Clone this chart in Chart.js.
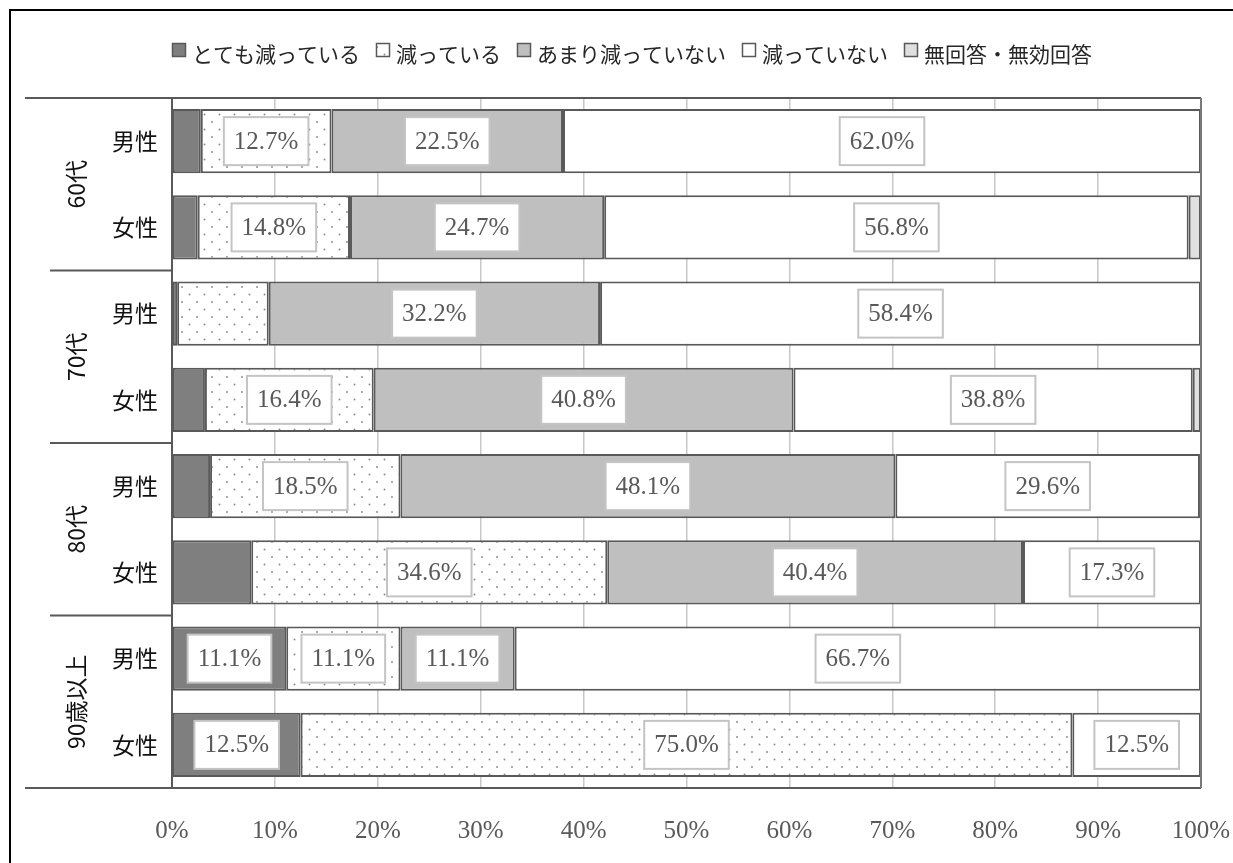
<!DOCTYPE html>
<html>
<head>
<meta charset="utf-8">
<script src="https://cdn.jsdelivr.net/npm/chart.js@4.4.1/dist/chart.umd.min.js"></script>
<style>
html,body{margin:0;padding:0;background:#fff;}
#wrap{width:1233px;height:863px;position:relative;}
</style>
</head>
<body>
<div id="wrap"><canvas id="c" width="1233" height="863"></canvas></div>
<script>
const categories = ['男性','女性','男性','女性','男性','女性','男性','女性'];
const groups = ['60代','70代','80代','90歳以上'];
const seriesNames = ['とても減っている','減っている','あまり減っていない','減っていない','無回答・無効回答'];
const veryDecreased = [2.8, 2.5, 0.5, 3.2, 3.7, 7.7, 11.1, 12.5];
const decreased     = [12.7, 14.8, 8.9, 16.4, 18.5, 34.6, 11.1, 75.0];
const notMuch       = [22.5, 24.7, 32.2, 40.8, 48.1, 40.4, 11.1, 0];
const notDecreased  = [62.0, 56.8, 58.4, 38.8, 29.6, 17.3, 66.7, 12.5];
const noAnswer      = [0, 1.2, 0, 0.8, 0, 0, 0, 0];
const xTicks = [0,10,20,30,40,50,60,70,80,90,100];

function makeDots(){
  const c = document.createElement('canvas'); c.width = 15; c.height = 15;
  const g = c.getContext('2d');
  g.fillStyle = '#ffffff'; g.fillRect(0,0,15,15);
  g.fillStyle = '#8a8a8a';
  g.beginPath(); g.arc(2,2,0.95,0,Math.PI*2); g.fill();
  g.beginPath(); g.arc(9.5,9.5,0.95,0,Math.PI*2); g.fill();
  return g.createPattern(c,'repeat');
}
const dots = makeDots();
const fills = ['#7f7f7f', dots, '#bfbfbf', '#ffffff', '#e0e0e0'];
const seriesData = [veryDecreased, decreased, notMuch, notDecreased, noAnswer];

const JP = '"Noto Sans CJK JP", "Noto Sans", sans-serif';
const SERIF = '"Liberation Serif", "DejaVu Serif", serif';

const decor = {
  id: 'decor',
  afterDatasetsDraw(chart){
    const ctx = chart.ctx, a = chart.chartArea, ys = chart.scales.y;
    ctx.save();
    // frame
    ctx.strokeStyle = '#595959'; ctx.lineWidth = 2;
    ctx.beginPath();
    ctx.moveTo(25, a.top); ctx.lineTo(a.right, a.top);
    ctx.moveTo(25, a.bottom); ctx.lineTo(a.right, a.bottom);
    ctx.moveTo(a.left, a.top); ctx.lineTo(a.left, a.bottom);
    ctx.stroke();
    ctx.strokeStyle = '#7a7a7a';
    ctx.beginPath(); ctx.moveTo(a.right, a.top); ctx.lineTo(a.right, a.bottom); ctx.stroke();
    // group separators & labels
    ctx.strokeStyle = '#595959';
    const rowH = (a.bottom - a.top) / categories.length;
    ctx.beginPath();
    for (let k = 1; k < groups.length; k++){
      const y = a.top + k*2*rowH;
      ctx.moveTo(50, y); ctx.lineTo(a.left, y);
    }
    ctx.stroke();
    ctx.fillStyle = '#111'; ctx.font = '23px ' + JP;
    ctx.textAlign = 'center'; ctx.textBaseline = 'middle';
    groups.forEach((g, k) => {
      const cy = ys.getPixelForValue(2*k + 0.5);
      ctx.save(); ctx.translate(76, cy); ctx.rotate(-Math.PI/2);
      ctx.fillText(g, 0, 0); ctx.restore();
    });
    // data labels
    ctx.font = '25px ' + SERIF;
    chart.data.datasets.forEach((ds, di) => {
      const meta = chart.getDatasetMeta(di);
      meta.data.forEach((bar, i) => {
        const v = ds.data[i];
        if (!(v >= 10)) return;
        const p = bar.getProps(['x','base','y'], true);
        const cx = (p.x + p.base) / 2;
        const txt = v.toFixed(1) + '%';
        const w = ctx.measureText(txt).width + 20, h = 48;
        ctx.fillStyle = '#fff';
        ctx.fillRect(cx - w/2, p.y - h/2, w, h);
        ctx.strokeStyle = '#c4c4c4'; ctx.lineWidth = 2;
        ctx.strokeRect(cx - w/2, p.y - h/2, w, h);
        ctx.fillStyle = '#595959'; ctx.textAlign = 'center'; ctx.textBaseline = 'middle';
        ctx.fillText(txt, cx, p.y + 1);
      });
    });
    ctx.restore();
  },
  afterDraw(chart){
    const ctx = chart.ctx;
    ctx.save();
    // legend
    ctx.font = '21px ' + JP;
    const box = 14, gapBT = 6, gapItem = 16;
    const items = chart.data.datasets.map(ds => ({label: ds.label, fill: ds.backgroundColor, w: ctx.measureText(ds.label).width}));
    let total = items.reduce((s, it) => s + box + gapBT + it.w, 0) + gapItem*(items.length-1);
    let x = 632 - total/2;
    items.forEach(it => {
      ctx.fillStyle = it.fill; ctx.fillRect(x, 43, box, box);
      ctx.strokeStyle = '#595959'; ctx.lineWidth = 1.5; ctx.strokeRect(x + 0.5, 43.5, box - 1, box - 1);
      ctx.fillStyle = '#262626'; ctx.textAlign = 'left'; ctx.textBaseline = 'middle';
      ctx.fillText(it.label, x + box + gapBT, 54);
      x += box + gapBT + it.w + gapItem;
    });
    // outer border
    ctx.strokeStyle = '#000'; ctx.lineWidth = 2;
    ctx.beginPath(); ctx.moveTo(10, 863); ctx.lineTo(10, 10); ctx.lineTo(1233, 10); ctx.stroke();
    ctx.restore();
  }
};

new Chart(document.getElementById('c'), {
  type: 'bar',
  data: {
    labels: categories,
    datasets: seriesNames.map((n, i) => ({
      label: n, data: seriesData[i], backgroundColor: fills[i],
      borderColor: '#595959', borderWidth: 2, borderSkipped: false,
      barPercentage: 0.745, categoryPercentage: 1.0
    }))
  },
  options: {
    indexAxis: 'y', responsive: false, animation: false, devicePixelRatio: 1,
    layout: { padding: { top: 98, right: 32, left: 0, bottom: 0 } },
    plugins: { legend: { display: false }, tooltip: { enabled: false } },
    scales: {
      x: {
        stacked: true, min: 0, max: 100,
        afterBuildTicks(s){ s.ticks = xTicks.map(v => ({value: v})); },
        afterFit(s){ s.height = 75; s.paddingLeft = 0; s.paddingRight = 0; },
        ticks: { callback: v => v + '%', color: '#595959', font: { family: SERIF, size: 25 }, padding: 28, maxRotation: 0 },
        grid: { color: '#c8c8c8', lineWidth: 1.5, drawTicks: false },
        border: { display: false }
      },
      y: {
        stacked: true,
        afterFit(s){ s.width = 172; s.paddingTop = 0; s.paddingBottom = 0; },
        ticks: { color: '#111', font: { family: JP, size: 23 }, padding: 14 },
        grid: { display: false, drawTicks: false },
        border: { display: false }
      }
    }
  },
  plugins: [decor]
});
</script>
</body>
</html>
